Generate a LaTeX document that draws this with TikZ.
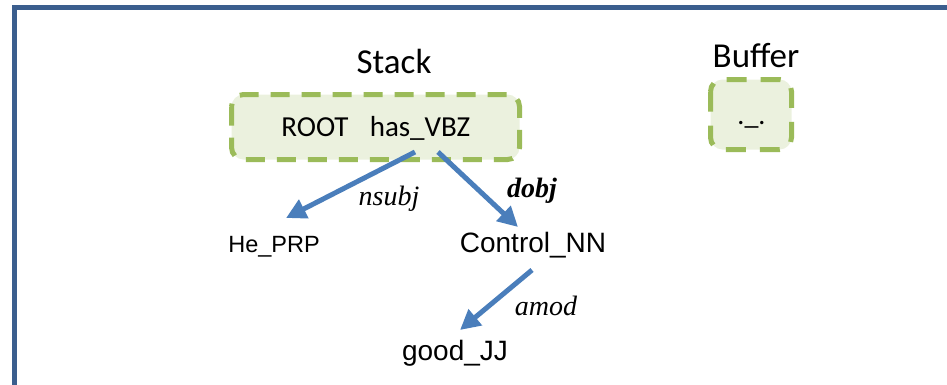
\documentclass[tikz,border=0pt]{standalone}
\usepackage{fontspec}
\setmainfont{Liberation Sans}
\newfontfamily\calibfont{Carlito}
\newfontfamily\timesfont{Liberation Serif}
\usetikzlibrary{arrows.meta}
\definecolor{framecol}{HTML}{3B5E8E}
\definecolor{dashgreen}{HTML}{9BBB59}
\definecolor{boxfill}{HTML}{EBF1DE}
\definecolor{arrowblue}{HTML}{4A7EBB}
\begin{document}
\begin{tikzpicture}[x=1pt,y=-1pt,
  stackbox/.style={draw=dashgreen, fill=boxfill, line width=5pt,
                   dash pattern=on 19pt off 12pt, rounded corners=12pt},
  bufferbox/.style={stackbox, dash pattern=on 20pt off 14pt},
  title/.style={anchor=base, inner sep=0pt, font=\calibfont\fontsize{35}{40}\selectfont},
  boxtext/.style={anchor=base, inner sep=0pt, font=\calibfont\fontsize{29}{33}\selectfont},
  word/.style={anchor=base, inner sep=0pt, font=\fontsize{28}{32}\selectfont},
  rel/.style={anchor=base, inner sep=0pt, font=\timesfont\itshape\fontsize{28}{32}\selectfont},
  dep/.style={draw=arrowblue, line width=5pt, -{Triangle[length=20pt,width=20pt]}}]
\useasboundingbox (0,0) rectangle (947,384);

% outer frame, open on the right and bottom
\begin{scope}
  \clip (0,0) rectangle (947,384);
  \draw[framecol, line width=5pt] (14,7.5) rectangle (1000,500);
\end{scope}

% stack and buffer
\node[title] (stacklbl) at (394,73.5) {Stack};
\node[title] (bufferlbl) at (756,67.5) {Buffer};
\draw[stackbox] (231.5,94.5) rectangle (519.5,159.5);
\draw[bufferbox] (710.5,79.5) rectangle (791.5,149.5);
\node[boxtext] (root) at (315,136) {ROOT};
\node[boxtext] (has) at (420,136) {has\_VBZ};
\node[boxtext, font=\calibfont\fontsize{28}{32}\selectfont] (buf) at (751.5,124.5) {.\_.};

% words
\node[word, font=\fontsize{23.5}{28}\selectfont] (he) at (274,252) {He\_PRP};
\node[word] (control) at (533,252) {Control\_NN};
\node[word] (good) at (455,360) {good\_JJ};

% arc end points
\coordinate (hasL) at (415,152);
\coordinate (hasR) at (438,152);
\coordinate (heTop) at (286,218);
\coordinate (ctlTop) at (518,227);
\coordinate (ctlBot) at (532,270);
\coordinate (goodTop) at (460,330);

% dependency arcs
\draw[dep] (hasL) -- (heTop);
\draw[dep] (hasR) -- (ctlTop);
\draw[dep] (ctlBot) -- (goodTop);

% arc labels
\node[rel] (nsubj) at (389,205) {nsubj};
\node[rel, font=\timesfont\bfseries\itshape\fontsize{28}{32}\selectfont] (dobj) at (532,197) {dobj};
\node[rel] (amod) at (546,315) {amod};
\end{tikzpicture}
\end{document}
